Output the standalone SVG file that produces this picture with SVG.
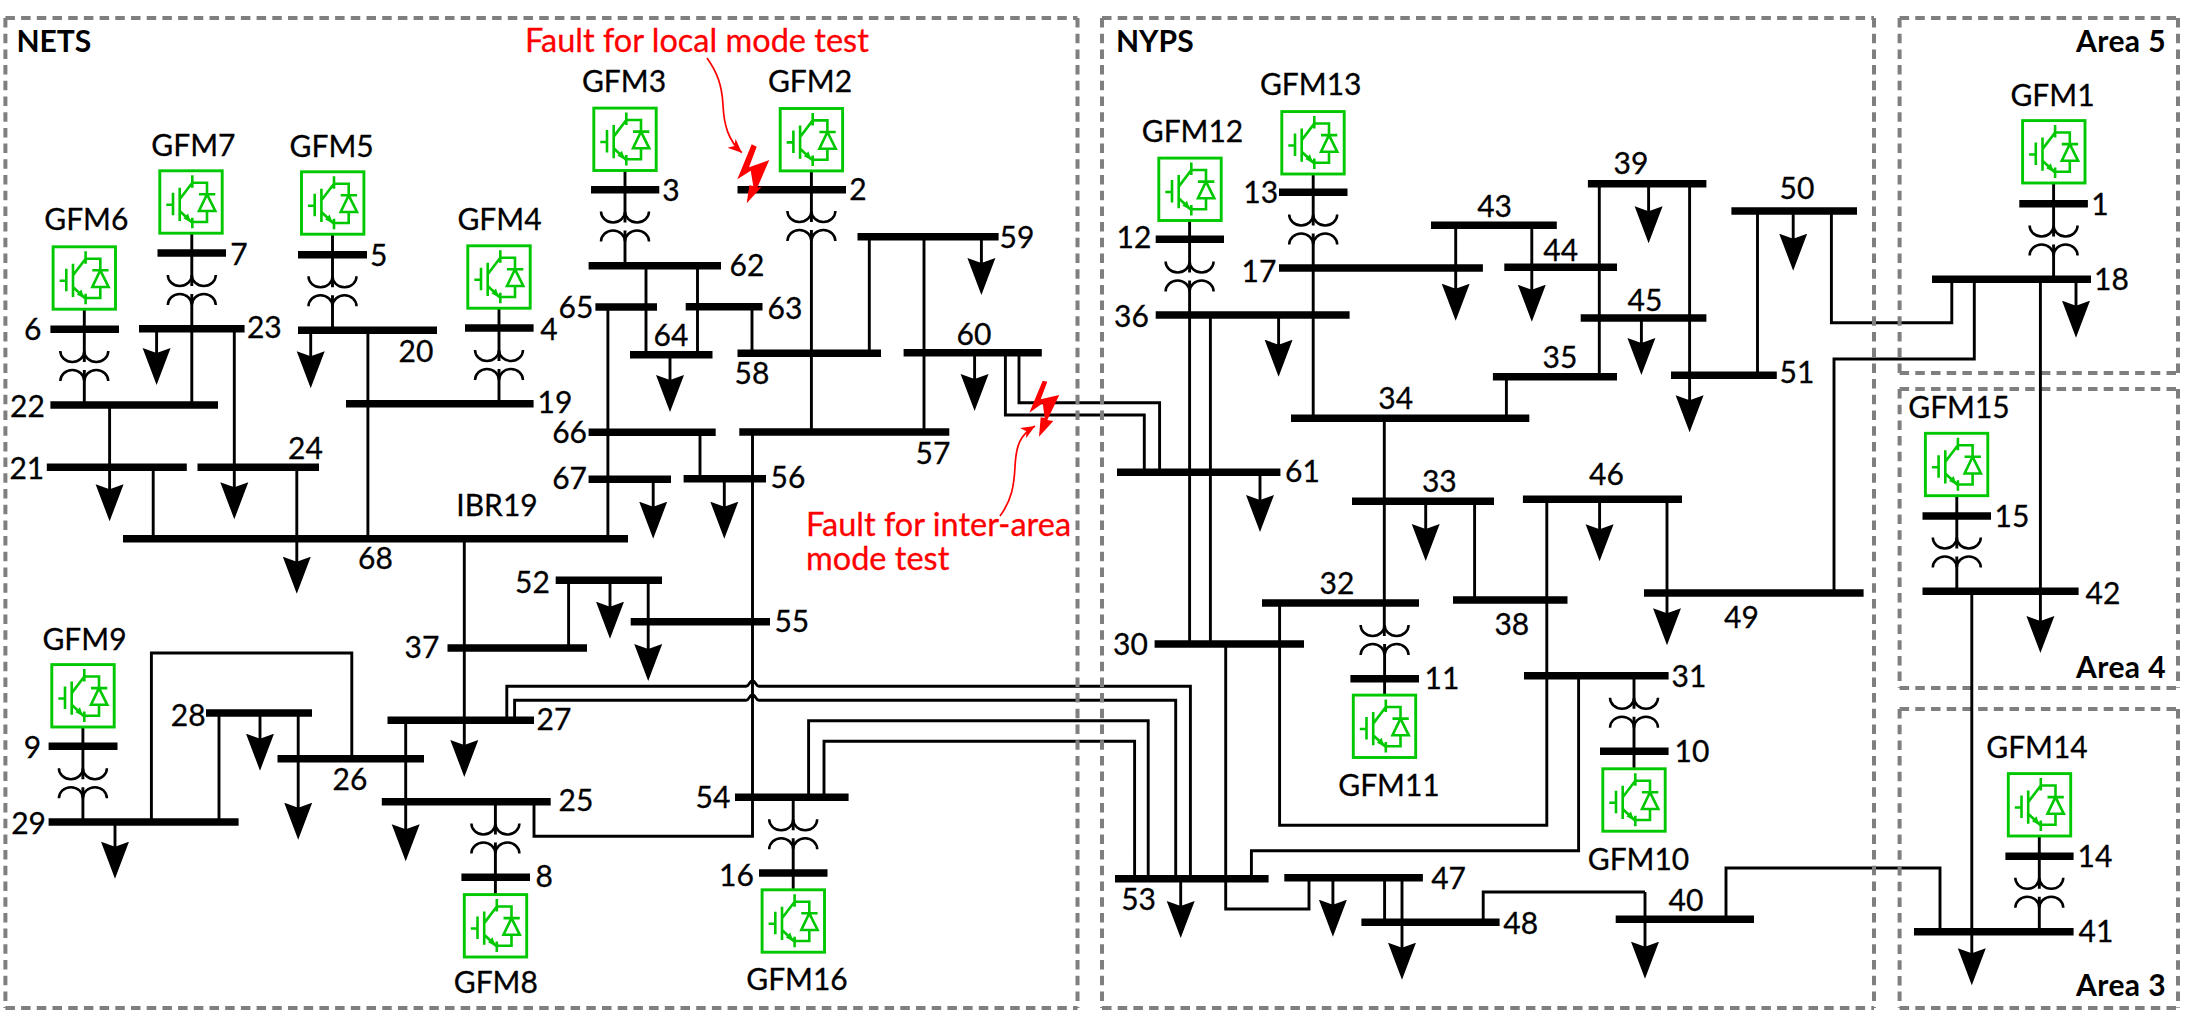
<svg xmlns="http://www.w3.org/2000/svg" width="2185" height="1024" viewBox="0 0 2185 1024">
<style>
text{font-family:Lato,"Open Sans",sans-serif;font-size:30px;fill:#000;stroke:#000;stroke-width:.3;text-anchor:middle}
.b{font-weight:700;stroke:none;font-size:30px}
.r{fill:#f00;stroke:#f00;text-anchor:start;font-size:32.5px}
.e{text-anchor:end}
.s{text-anchor:start}
.region{fill:none;stroke:#7f7f7f;stroke-width:4;stroke-dasharray:9.5 6.2}
.bus{fill:none;stroke:#000;stroke-width:7.5}
.w{fill:none;stroke:#000;stroke-width:2.9}
.x{fill:none;stroke:#000;stroke-width:2.5}
.load{marker-end:url(#load)}
.box{fill:#fff;stroke:#00c800;stroke-width:2.9}
.ig{fill:none;stroke:#00c800;stroke-width:2.6}
.bolt{fill:#f00}
.call{fill:none;stroke:#f00;stroke-width:1.7;marker-end:url(#red)}
</style>
<defs>
<marker id="load" markerUnits="userSpaceOnUse" markerWidth="40" markerHeight="30" viewBox="0 -15 40 30" refX="27" refY="0" orient="auto"><path d="M0-14 37 0 0 14 5 0z" fill="#000"/></marker>
<marker id="red" markerUnits="userSpaceOnUse" markerWidth="16" markerHeight="14" viewBox="0 -7 16 14" refX="14" refY="0" orient="auto"><path d="M0-6 14 0 0 6 4 0z" fill="#f00"/></marker>
<g id="xf" class="x"><path d="M-24-15a12 11 0 0 0 24 0a12 11 0 0 0 24 0M-24 15a12 11 0 0 1 24 0a12 11 0 0 1 24 0"/></g>
<g id="igbt"><rect class="box" x="-31.2" y="-31.2" width="62.4" height="62.4"/><path class="ig" d="M-24.7 2.7H-18M-18-9.3V13.3M-11.3-14.3V19M-11.3-2.7 1.3-19.3M1.3-26.7V-14.3M1.3-19.3H16V-7.7M8-7.7H24.3M16-7.7 8 9H24.3L16-7.7M16 9V20H1.3M-11.3 9 1.3 20.7M1.3 15.7V26.3"/><path d="M0 20.5-7.5 16.5-3 11.5z" fill="#00c800"/></g>
</defs>
<g id="region-edges-horizontal">
<path class="region" d="M5.4 18H1077.5M5.4 1008H1077.5M1102 18H1874M1102 1008H1874M1899.6 18H2178M1899.6 373H2178M1899.6 389H2178M1899.6 688H2178M1899.6 709H2178M1899.6 1008H2178"/>
</g>
<g id="connectors">
<use href="#xf" x="191.8" y="290"/><use href="#xf" x="332.5" y="291.3"/><use href="#xf" x="84.3" y="366"/><use href="#xf" x="499" y="365"/><use href="#xf" x="625" y="226.5"/><use href="#xf" x="811.4" y="226"/><use href="#xf" x="82.9" y="783.2"/><use href="#xf" x="495.4" y="838.5"/><use href="#xf" x="793.2" y="834.3"/><use href="#xf" x="1313.2" y="229.5"/><use href="#xf" x="1189.6" y="276.5"/><use href="#xf" x="1384.6" y="640"/><use href="#xf" x="1634" y="712.7"/><use href="#xf" x="2053.6" y="240.5"/><use href="#xf" x="1956.8" y="552.5"/><use href="#xf" x="2039.3" y="892.8"/>
<path class="w" d="M191.8 233V286M191.8 294V405M332.5 234V287.3M332.5 295.3V330M84.3 309V362M84.3 370V405M499 308V361M499 369V404M625 171V222.5M625 230.5V266M811.4 171V222M811.4 230V432M82.9 727V779.2M82.9 787.2V822M495.4 802V834.5M495.4 842.5V895M793.2 797V830.3M793.2 838.3V890M1313.2 174V225.5M1313.2 233.5V418M1189.6 221V272.5M1189.6 280.5V644M1384.3 418V636M1384.6 644V695M1634 676V708.7M1634 716.7V769M2053.6 183V236.5M2053.6 244.5V279M1956.8 496V548.5M1956.8 556.5V591M2039.3 836V888.8M2039.3 896.8V932"/>
<path class="w" d="M153.2 467V539M367.9 330V539M646 266V355M697.5 266V355M752 307V353M607.9 307V539M869.3 237V353M924 237V432M700 432V479M568.6 580V648M648.2 580V622M219 713V822M1210.4 315V644M1506.4 377V418M1474.6 501V600M1599.3 184V377M1757.5 211V375M1384.6 878V922"/>
<path class="w" d="M534 802V836.3H752.5V432M1005.4 353V415H1144.3V472M1019 353V402.7H1159.6V472M151.4 822V653H351.8V759M506.8 720V686.3H746C749.5 686.3 749 681 752.5 681C756 681 755.5 686.3 759 686.3H1190.4V879M514.6 720V700.3H746C749.5 700.3 749 695 752.5 695C756 695 755.5 700.3 759 700.3H1175.7V879M808.6 797V720.7H1148.2V879M824 797V741.3H1134.6V879M1546.8 499V825.3H1279.6V603M1225.7 644V909H1309V878M1251.4 879V850.7H1578.6V676M1834 593V359H1974.3V279M1951.8 279V322.7H1831.4V211M1940 932V868H1726V919M1483.2 922V892H1645M2040.4 279V591"/>
<path class="w load" d="M156.6 329V375"/><path class="w load" d="M310.7 330V378.3"/><path class="w load" d="M234.3 329V509.3"/><path class="w load" d="M109.6 405V511.3"/><path class="w load" d="M296.8 467V583.7"/>
<path class="w load" d="M981.4 237V285"/><path class="w load" d="M670 355V402"/><path class="w load" d="M974.6 353V401"/><path class="w load" d="M653.2 479V528.7"/><path class="w load" d="M724.3 479V528.7"/>
<path class="w load" d="M610 580V628.7"/><path class="w load" d="M648.2 622V671"/><path class="w load" d="M464.3 539V767"/><path class="w load" d="M405.7 720V851.3"/><path class="w load" d="M298.2 713V829.7"/><path class="w load" d="M260 713V760.7"/><path class="w load" d="M115 822V868.7"/>
<path class="w load" d="M1455.7 225V310.7"/><path class="w load" d="M1531.8 225V311.7"/><path class="w load" d="M1278.6 315V366.7"/><path class="w load" d="M1260 472V522"/><path class="w load" d="M1425.7 501V551"/><path class="w load" d="M1599.6 499V551.3"/><path class="w load" d="M1667 499V635.3"/>
<path class="w load" d="M1793.2 211V260.7"/><path class="w load" d="M1648.6 184V233.3"/><path class="w load" d="M1689.6 184V422.3"/><path class="w load" d="M1641.4 318V365"/><path class="w load" d="M2076 279V327.7"/><path class="w load" d="M2040.4 591V643"/><path class="w load" d="M1971.8 591V975.3"/>
<path class="w load" d="M1645 892V968.7"/><path class="w load" d="M1180.7 879V928"/><path class="w load" d="M1332.9 878V926.7"/><path class="w load" d="M1402 878V969.7"/>
</g>
<g id="region-edges-vertical">
<path class="region" d="M5.4 18V1008M1077.5 18V1008M1102 18V1008M1874 18V1008M1899.6 18V373M2178 18V373M1899.6 389V688M2178 389V688M1899.6 709V1008M2178 709V1008"/>
</g>
<g id="bus-1"><path class="bus" d="M2019.3 203.7H2087.9"/><text x="2100" y="215">1</text></g>
<g id="bus-2"><path class="bus" d="M737.5 189.7H846"/><text x="857.9" y="200">2</text></g>
<g id="bus-3"><path class="bus" d="M591 189.7H659.3"/><text x="670.9" y="200.7">3</text></g>
<g id="bus-4"><path class="bus" d="M465 328H533.6"/><text x="549" y="340">4</text></g>
<g id="bus-5"><path class="bus" d="M298 254.7H367"/><text x="378.6" y="265.7">5</text></g>
<g id="bus-6"><path class="bus" d="M50.4 329.3H119"/><text x="32.7" y="340">6</text></g>
<g id="bus-7"><path class="bus" d="M157.5 253H226"/><text x="239" y="265">7</text></g>
<g id="bus-8"><path class="bus" d="M461.4 877.3H530"/><text x="544.3" y="887">8</text></g>
<g id="bus-9"><path class="bus" d="M48.6 746.3H117.5"/><text x="32.5" y="758">9</text></g>
<g id="bus-10"><path class="bus" d="M1600 751.3H1668.6"/><text x="1692" y="762">10</text></g>
<g id="bus-11"><path class="bus" d="M1350.4 678.7H1419"/><text x="1442" y="689.3">11</text></g>
<g id="bus-12"><path class="bus" d="M1155.7 239.3H1224"/><text x="1134" y="248.3">12</text></g>
<g id="bus-13"><path class="bus" d="M1279 192.3H1347.5"/><text x="1260.7" y="203.3">13</text></g>
<g id="bus-14"><path class="bus" d="M2005.4 856.3H2073.6"/><text x="2095" y="867">14</text></g>
<g id="bus-15"><path class="bus" d="M1922.5 516H1991"/><text x="2012" y="527">15</text></g>
<g id="bus-16"><path class="bus" d="M759 873H827.5"/><text x="736.4" y="886.3">16</text></g>
<g id="bus-17"><path class="bus" d="M1279 268H1482.9"/><text x="1259" y="281.7">17</text></g>
<g id="bus-18"><path class="bus" d="M1932 279.3H2091"/><text x="2111.4" y="290">18</text></g>
<g id="bus-19"><path class="bus" d="M346 403.7H533.6"/><text x="555" y="413.3">19</text></g>
<g id="bus-20"><path class="bus" d="M298 330.3H437"/><text x="416" y="362.3">20</text></g>
<g id="bus-21"><path class="bus" d="M46.8 467.3H186.8"/><text x="26.8" y="479">21</text></g>
<g id="bus-22"><path class="bus" d="M50.4 405H218"/><text x="27.5" y="416.7">22</text></g>
<g id="bus-23"><path class="bus" d="M139 328.7H244.6"/><text x="264.3" y="337.7">23</text></g>
<g id="bus-24"><path class="bus" d="M197.5 467.3H319"/><text x="305.4" y="459">24</text></g>
<g id="bus-25"><path class="bus" d="M381.8 801.7H550.7"/><text x="576" y="811.3">25</text></g>
<g id="bus-26"><path class="bus" d="M277.5 758.7H424"/><text x="350" y="789.7">26</text></g>
<g id="bus-27"><path class="bus" d="M387.5 720.3H534"/><text x="554" y="730.3">27</text></g>
<g id="bus-28"><path class="bus" d="M206 713H312"/><text x="188.2" y="726">28</text></g>
<g id="bus-29"><path class="bus" d="M48.6 822H238.6"/><text x="28.6" y="833.7">29</text></g>
<g id="bus-30"><path class="bus" d="M1154.6 644H1304"/><text x="1130.4" y="654.7">30</text></g>
<g id="bus-31"><path class="bus" d="M1524 675.7H1668.6"/><text x="1689" y="687">31</text></g>
<g id="bus-32"><path class="bus" d="M1262 603H1419"/><text x="1337" y="593.7">32</text></g>
<g id="bus-33"><path class="bus" d="M1352 501.3H1494"/><text x="1439.3" y="492.3">33</text></g>
<g id="bus-34"><path class="bus" d="M1291 418.3H1529.3"/><text x="1395.7" y="409.3">34</text></g>
<g id="bus-35"><path class="bus" d="M1492.9 376.7H1617"/><text x="1560" y="368.3">35</text></g>
<g id="bus-36"><path class="bus" d="M1155.7 315H1349.6"/><text x="1131.4" y="326.7">36</text></g>
<g id="bus-37"><path class="bus" d="M447.5 648H587"/><text x="422" y="658">37</text></g>
<g id="bus-38"><path class="bus" d="M1453 600H1567.5"/><text x="1511.8" y="634.7">38</text></g>
<g id="bus-39"><path class="bus" d="M1587.9 183.7H1706.4"/><text x="1631" y="174.3">39</text></g>
<g id="bus-40"><path class="bus" d="M1615.7 919.3H1754"/><text x="1686" y="911">40</text></g>
<g id="bus-41"><path class="bus" d="M1914 931.7H2073.6"/><text x="2096" y="942">41</text></g>
<g id="bus-42"><path class="bus" d="M1922.5 591.3H2078.6"/><text x="2103" y="603.7">42</text></g>
<g id="bus-43"><path class="bus" d="M1431 225.3H1556.8"/><text x="1494.6" y="216.7">43</text></g>
<g id="bus-44"><path class="bus" d="M1504.3 267.3H1617"/><text x="1560.7" y="261">44</text></g>
<g id="bus-45"><path class="bus" d="M1580.7 318H1706.4"/><text x="1645" y="310.7">45</text></g>
<g id="bus-46"><path class="bus" d="M1522.9 499.3H1682"/><text x="1606.4" y="485">46</text></g>
<g id="bus-47"><path class="bus" d="M1284.3 877.7H1422.9"/><text x="1448.6" y="888.7">47</text></g>
<g id="bus-48"><path class="bus" d="M1361.4 922.3H1499.6"/><text x="1520.7" y="933.7">48</text></g>
<g id="bus-49"><path class="bus" d="M1644 593H1863.6"/><text x="1741.4" y="627.7">49</text></g>
<g id="bus-50"><path class="bus" d="M1731.4 211H1857"/><text x="1797" y="199">50</text></g>
<g id="bus-51"><path class="bus" d="M1671 375.3H1776.8"/><text x="1797" y="382.7">51</text></g>
<g id="bus-52"><path class="bus" d="M555.7 580.3H662"/><text x="532.5" y="593">52</text></g>
<g id="bus-53"><path class="bus" d="M1115 878.7H1268.6"/><text x="1138.6" y="909.7">53</text></g>
<g id="bus-54"><path class="bus" d="M735 797.3H848.6"/><text x="713" y="808">54</text></g>
<g id="bus-55"><path class="bus" d="M630.7 621.7H770"/><text x="791.8" y="632">55</text></g>
<g id="bus-56"><path class="bus" d="M683.6 478.7H766"/><text x="787.9" y="487.7">56</text></g>
<g id="bus-57"><path class="bus" d="M739.3 432H949.3"/><text x="932.9" y="464.3">57</text></g>
<g id="bus-58"><path class="bus" d="M737.5 353.3H881"/><text x="752" y="384.3">58</text></g>
<g id="bus-59"><path class="bus" d="M857.5 236.7H998.6"/><text x="1017" y="247.7">59</text></g>
<g id="bus-60"><path class="bus" d="M903.6 352.7H1041.8"/><text x="974" y="345">60</text></g>
<g id="bus-61"><path class="bus" d="M1117 472.3H1280.4"/><text x="1302.5" y="482.3">61</text></g>
<g id="bus-62"><path class="bus" d="M588.6 265.7H721"/><text x="747" y="275.7">62</text></g>
<g id="bus-63"><path class="bus" d="M685.7 306.7H762.5"/><text x="785" y="319.3">63</text></g>
<g id="bus-64"><path class="bus" d="M630 354.7H712.5"/><text x="671" y="346">64</text></g>
<g id="bus-65"><path class="bus" d="M595.4 307H657"/><text x="576" y="318.3">65</text></g>
<g id="bus-66"><path class="bus" d="M588.6 432.3H715.7"/><text x="569.6" y="442.7">66</text></g>
<g id="bus-67"><path class="bus" d="M588.6 479.3H671"/><text x="569.6" y="489">67</text></g>
<g id="bus-68"><path class="bus" d="M123 538.7H628"/><text x="375.4" y="569.3">68</text><text x="497" y="516">IBR19</text></g>
<g id="gfm-1"><use href="#igbt" x="2053.8" y="151.8"/><text x="2052.5" y="105.7">GFM1</text></g>
<g id="gfm-2"><use href="#igbt" x="811.4" y="139.7"/><text x="810" y="92.3">GFM2</text></g>
<g id="gfm-3"><use href="#igbt" x="625" y="139.3"/><text x="624" y="92.3">GFM3</text></g>
<g id="gfm-4"><use href="#igbt" x="499" y="277"/><text x="499.5" y="230">GFM4</text></g>
<g id="gfm-5"><use href="#igbt" x="332.7" y="203"/><text x="331.6" y="157.3">GFM5</text></g>
<g id="gfm-6"><use href="#igbt" x="84.3" y="278"/><text x="86.3" y="230">GFM6</text></g>
<g id="gfm-7"><use href="#igbt" x="191" y="202"/><text x="193.4" y="156">GFM7</text></g>
<g id="gfm-8"><use href="#igbt" x="495.5" y="925.8"/><text x="495.8" y="993">GFM8</text></g>
<g id="gfm-9"><use href="#igbt" x="83" y="695.8"/><text x="84.5" y="649.7">GFM9</text></g>
<g id="gfm-10"><use href="#igbt" x="1634" y="800"/><text x="1638.5" y="869.7">GFM10</text></g>
<g id="gfm-11"><use href="#igbt" x="1384.5" y="726.3"/><text x="1389" y="796.3">GFM11</text></g>
<g id="gfm-12"><use href="#igbt" x="1190" y="189.3"/><text x="1192.5" y="142.3">GFM12</text></g>
<g id="gfm-13"><use href="#igbt" x="1313" y="142.8"/><text x="1310.7" y="95">GFM13</text></g>
<g id="gfm-14"><use href="#igbt" x="2039.5" y="804.8"/><text x="2037" y="758">GFM14</text></g>
<g id="gfm-15"><use href="#igbt" x="1956.6" y="464.5"/><text x="1959" y="417.7">GFM15</text></g>
<g id="gfm-16"><use href="#igbt" x="793.3" y="921"/><text x="797" y="989.7">GFM16</text></g>
<g id="area-labels">
<text class="b s" x="16.5" y="52.3">NETS</text>
<text class="b s" x="1116" y="52.3">NYPS</text>
<text class="b e" x="2166" y="52.3" style="letter-spacing:.4px">Area 5</text>
<text class="b e" x="2166" y="678" style="letter-spacing:.4px">Area 4</text>
<text class="b e" x="2166" y="996.3" style="letter-spacing:.4px">Area 3</text>
</g>
<g id="fault-local">
<polygon class="bolt" points="751.7,144.3 756.7,146.7 749,167.3 769.3,160 757.3,187.7 761.7,186.7 746.7,203.3 749.3,185.3 753.3,186 750.7,170.7 737.3,179.3"/>
<path class="call" d="M707 58C717 72 722 85 723 105C724 125 728 140 741.8 152.7"/>
<text class="r" x="525" y="51.7">Fault for local mode test</text>
</g>
<g id="fault-inter-area">
<polygon class="bolt" points="1042.7,380.7 1047.3,381.7 1040.7,399.3 1059.3,395 1047.3,420 1053.3,421 1039,436.7 1040.7,417.3 1044.7,418 1042.7,403.3 1029.3,412.7"/>
<path class="call" d="M1000 516C1012 500 1014 485 1015 467C1016 445 1020 435 1035 426"/>
<text class="r" x="806" y="536">Fault for inter-area</text>
<text class="r" x="806" y="570.3">mode test</text>
</g>
</svg>
